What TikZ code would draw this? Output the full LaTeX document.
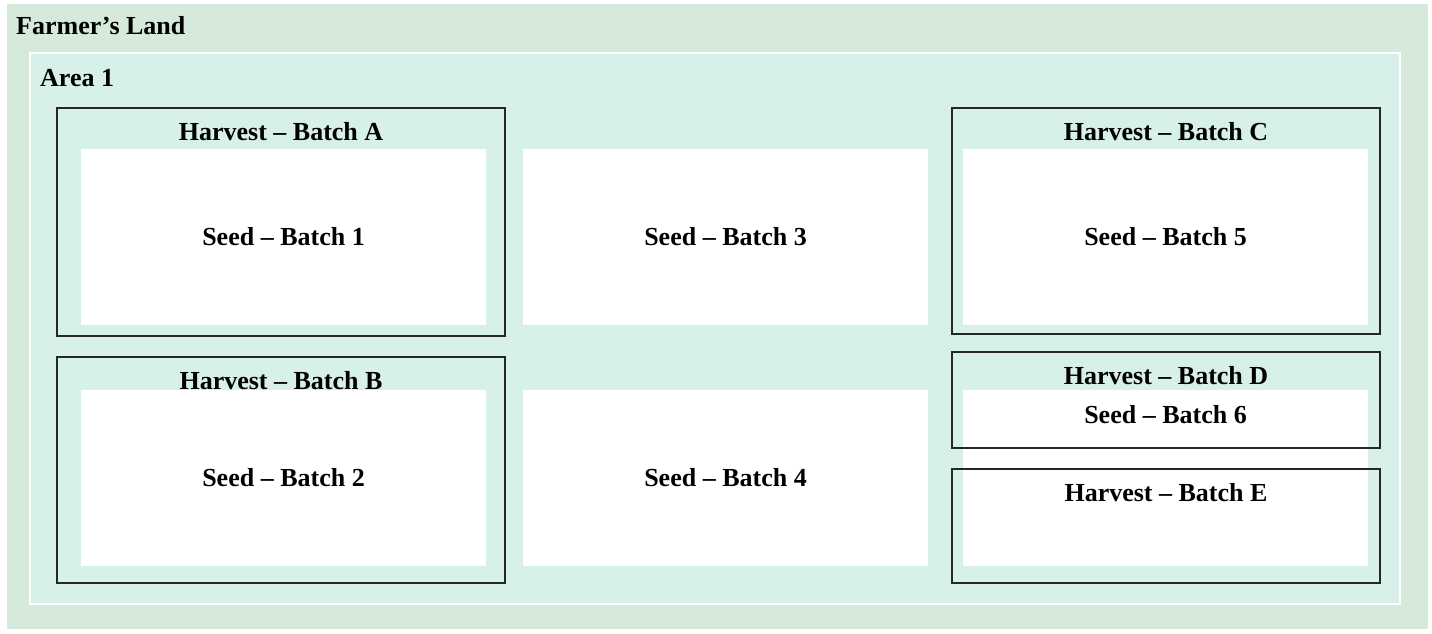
\documentclass[tikz,border=0pt]{standalone}
\usepackage{fontspec}
\setmainfont{Liberation Serif}
\usetikzlibrary{positioning}
\definecolor{landgreen}{RGB}{213,234,218}
\definecolor{areateal}{RGB}{216,240,234}

\begin{document}
\begin{tikzpicture}[x=1pt,y=-1pt,
    box/.style={anchor=north west,inner sep=0pt,outer sep=0pt},
    plot/.style={box,fill=white,minimum width=405pt,minimum height=176pt},
    batch/.style={box,draw=black!85,line width=1.5pt,minimum width=#1},
    lbl/.style={font=\fontsize{26}{30}\selectfont\bfseries,inner sep=0pt}]

\useasboundingbox (0,0) rectangle (1432,634);

% land and area
\node [box,fill=landgreen,minimum width=1421pt,minimum height=625pt] (land) at (7,4) {};
\node [box,fill=areateal,draw=white,line width=1.5pt,minimum width=1370pt,minimum height=551pt] (area) at (30,53) {};

\node [lbl,anchor=base west] (landlbl) at (16,35) {Farmer’s Land};
\node [lbl,anchor=base west] (arealbl) at (40,86) {Area 1};

% seed plots
\coordinate (p1) at (81,149);
\coordinate (p3) at (523,149);
\coordinate (p5) at (963,149);
\coordinate (p2) at (81,390);
\coordinate (p4) at (523,390);
\coordinate (p6) at (963,390);

\foreach \i in {1,...,6}
    \node [plot] (s\i) at (p\i) {};

\foreach \i in {1,...,5}
    \node [lbl] at (s\i.center) {Seed – Batch \i};
\node [lbl,below=15pt of s6.north] (s6lbl) {Seed – Batch 6};

% harvest batches
\node [batch=448pt,minimum height=228pt] (hA) at (57,108) {};
\node [batch=448pt,minimum height=226pt] (hB) at (57,357) {};
\node [batch=428pt,minimum height=226pt] (hC) at (952,108) {};
\node [batch=428pt,minimum height=96pt]  (hD) at (952,352) {};
\node [batch=428pt,minimum height=114pt] (hE) at (952,469) {};

\foreach \b in {A,B,C,D,E}
    \node [lbl,below=14.5pt of h\b.north] {Harvest – Batch \b};

\end{tikzpicture}
\end{document}
